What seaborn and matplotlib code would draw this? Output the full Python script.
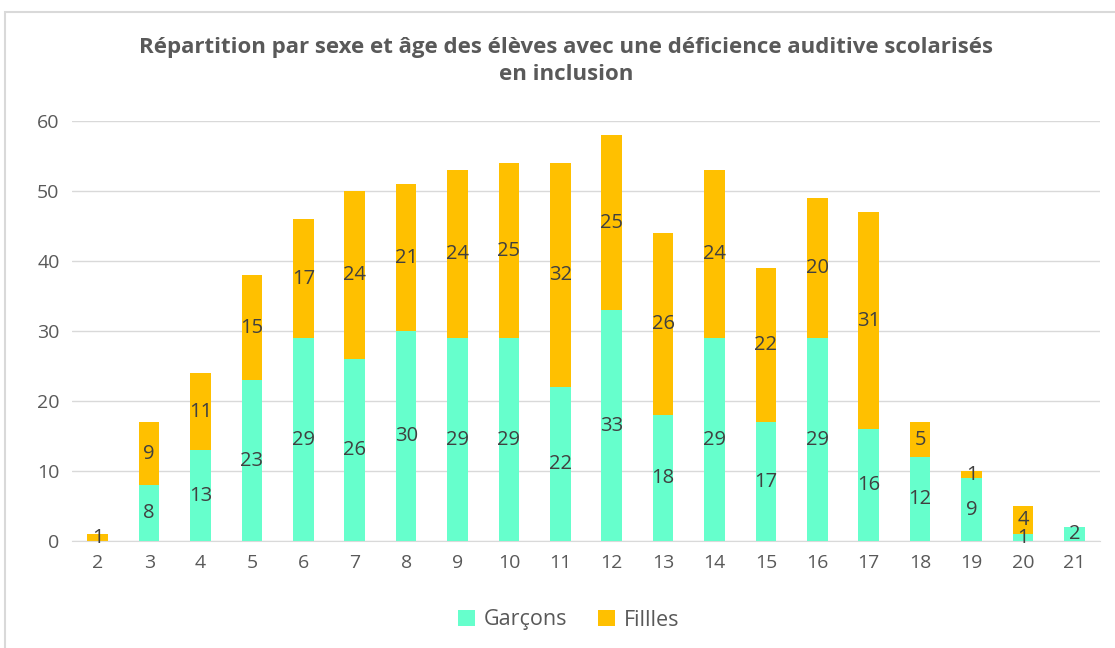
import numpy as np
import pandas as pd
import matplotlib
matplotlib.use("Agg")
import matplotlib.pyplot as plt
import matplotlib.patches as mpatches
import seaborn as sns

ages = [2, 3, 4, 5, 6, 7, 8, 9, 10, 11, 12, 13, 14, 15, 16, 17, 18, 19, 20, 21]
garcons = [0, 8, 13, 23, 29, 26, 30, 29, 29, 22, 33, 18, 29, 17, 29, 16, 12, 9, 1, 2]
filles = [1, 9, 11, 15, 17, 24, 21, 24, 25, 32, 25, 26, 24, 22, 20, 31, 5, 1, 4, 0]

c_g = "#66FFCC"
c_f = "#FFC000"
grey = "#595959"

df = pd.DataFrame({"age": [str(a) for a in ages], "garcons": garcons, "filles": filles})
df["total"] = df["garcons"] + df["filles"]

sns.set_style("white")
plt.rcParams["font.family"] = ["Open Sans", "DejaVu Sans"]

fig = plt.figure(figsize=(11.15, 6.48), dpi=100)
ax = fig.add_axes([0.0646, 0.165, 0.922, 0.648])

sns.barplot(data=df, x="age", y="total", color=c_f, width=0.4, ax=ax,
            saturation=1, label="Fillles", zorder=2, linewidth=0)
sns.barplot(data=df, x="age", y="garcons", color=c_g, width=0.4, ax=ax,
            saturation=1, label="Garçons", zorder=3, linewidth=0)

# labels centred in each segment (tiny segments: keep them apart a bit)
for i, (g, f) in enumerate(zip(garcons, filles)):
    yg = g / 2
    yf = g + f / 2
    if g > 0 and f > 0 and yf - yg < 2.6:
        yg = yf - 2.6
    if g > 0:
        ax.text(i, yg, str(g), ha="center", va="center", fontsize=14.5,
                color="#404040", zorder=5, clip_on=False)
    if f > 0:
        ax.text(i, yf, str(f), ha="center", va="center", fontsize=14.5,
                color="#404040", zorder=5)

ax.set_ylim(0, 60)
ax.set_xlim(-0.5, 19.5)
ax.set_yticks(range(0, 61, 10))
ax.yaxis.grid(True, color="#d9d9d9", linewidth=1, zorder=0)
ax.set_axisbelow(True)
for s in ["top", "right", "left"]:
    ax.spines[s].set_visible(False)
ax.spines["bottom"].set_color("#d9d9d9")
ax.tick_params(axis="both", length=0, labelsize=14, labelcolor=grey, pad=9)
ax.set_xlabel("")
ax.set_ylabel("")

handles, labels = ax.get_legend_handles_labels()
order = [labels.index("Garçons"), labels.index("Fillles")]
ax.legend([handles[k] for k in order], [labels[k] for k in order],
          loc="center", bbox_to_anchor=(0.51, 1 - 620 / 648), bbox_transform=fig.transFigure,
          ncol=2, frameon=False, fontsize=15.5, labelcolor=grey,
          handlelength=0.8, handleheight=0.8, handletextpad=0.4, columnspacing=1.4)

fig.text(0.508, 1 - 47 / 648, "Répartition par sexe et âge des élèves avec une déficience auditive scolarisés",
         ha="center", va="center", fontsize=16, fontweight="bold", color=grey)
fig.text(0.508, 1 - 75 / 648, "en inclusion",
         ha="center", va="center", fontsize=16, fontweight="bold", color=grey)

fig.patches.append(mpatches.Rectangle((5 / 1115, -0.01), 1.02, 1 - 12 / 648 + 0.01,
                                      transform=fig.transFigure, fill=False,
                                      edgecolor="#d9d9d9", linewidth=1.5))

fig.savefig("out.png", dpi=100)
